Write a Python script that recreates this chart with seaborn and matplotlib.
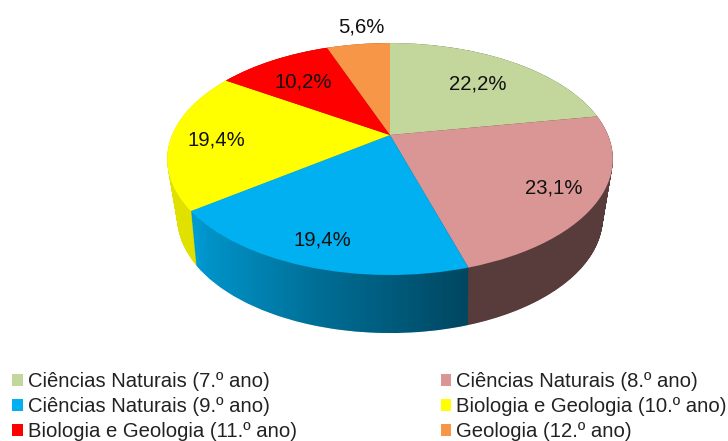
import numpy as np
import matplotlib
matplotlib.use("Agg")
import matplotlib.pyplot as plt
from matplotlib.patches import Patch
from matplotlib.path import Path
from matplotlib.transforms import Transform
import seaborn as sns

categories = ["Ciências Naturais (7.º ano)", "Ciências Naturais (8.º ano)",
              "Ciências Naturais (9.º ano)", "Biologia e Geologia (10.º ano)",
              "Biologia e Geologia (11.º ano)", "Geologia (12.º ano)"]
values = [22.2, 23.1, 19.4, 19.4, 10.2, 5.6]
colors = ["#C3D69B", "#D99694", "#00B0F0", "#FFFF00", "#FF0000", "#F79646"]

# label anchors in image pixels
label_x = [478, 554, 322, 216, 303, 361]
label_y = [84, 188, 240, 140, 82, 27]


class PieView(Transform):
    # maps the flat unit pie to the tilted pie on the image
    input_dims = 2
    output_dims = 2
    is_separable = False
    has_inverse = False

    def __init__(self, t=0.0):
        super().__init__()
        self.rx = 218 + (206 - 218) * t
        self.ry = 111 + (108 - 111) * t
        self.k = 0.207 + (0.25 - 0.207) * t
        self.dy = 54 * t

    def transform_non_affine(self, values):
        values = np.asarray(values, dtype=float)
        w = 1 + self.k * values[:, 1]
        x = 390 + self.rx * values[:, 0] / w
        y = 135 + self.dy - self.ry * values[:, 1] / w
        return np.column_stack([x, y])


def draw_pie(ax, t, zorder):
    wedges, _ = ax.pie(values, colors=colors, startangle=90, counterclock=False,
                       wedgeprops={"linewidth": 0, "zorder": zorder})
    view = PieView(t)
    for w in wedges:
        w.set_transform(view + ax.transData)
    return wedges


sns.set_theme(style="white")
plt.rcParams["font.family"] = ["Liberation Sans", "DejaVu Sans"]

fig = plt.figure(figsize=(7.28, 4.41), dpi=100)
ax = fig.add_axes([0, 0, 1, 1])

layers = np.linspace(1, 0, 70)
for t in layers:
    draw_pie(ax, t, 1)

# side shading, darker towards the right
shade_x = np.linspace(0, 728, 728)
alpha = 1 - np.interp(shade_x, [0, 197, 205, 320, 467, 728], [0.88, 0.88, 0.84, 0.62, 0.4, 0.4])
rgba = np.zeros((1, 728, 4))
rgba[0, :, 3] = alpha
shade = ax.imshow(rgba, extent=(0, 728, 441, 0), aspect="auto", zorder=2)
circle = Path.unit_circle()
side = Path.make_compound_path(*[Path(PieView(t).transform(circle.vertices), circle.codes)
                                 for t in layers])
shade.set_clip_path(side, ax.transData)

draw_pie(ax, 0, 3)

for v, x, y in zip(values, label_x, label_y):
    ax.text(x, y, f"{v:.1f}%".replace(".", ","), ha="center", va="center",
            fontsize=14.6, color="#111111", zorder=4)

ax.set_aspect("auto")
ax.set_xlim(0, 728)
ax.set_ylim(441, 0)
ax.axis("off")

# legend fills by column
order = [0, 2, 4, 1, 3, 5]
handles = [Patch(facecolor=colors[i], edgecolor="none") for i in order]
fig.legend(handles, [categories[i] for i in order], ncol=2, frameon=False,
           loc="lower left", bbox_to_anchor=(12 / 728, 0 / 441), borderaxespad=0, borderpad=0,
           fontsize=14.6, labelcolor="#222222", handlelength=0.52, handleheight=0.52,
           handletextpad=0.25, columnspacing=7.1, labelspacing=0.3)

fig.savefig("out.png", dpi=100)
